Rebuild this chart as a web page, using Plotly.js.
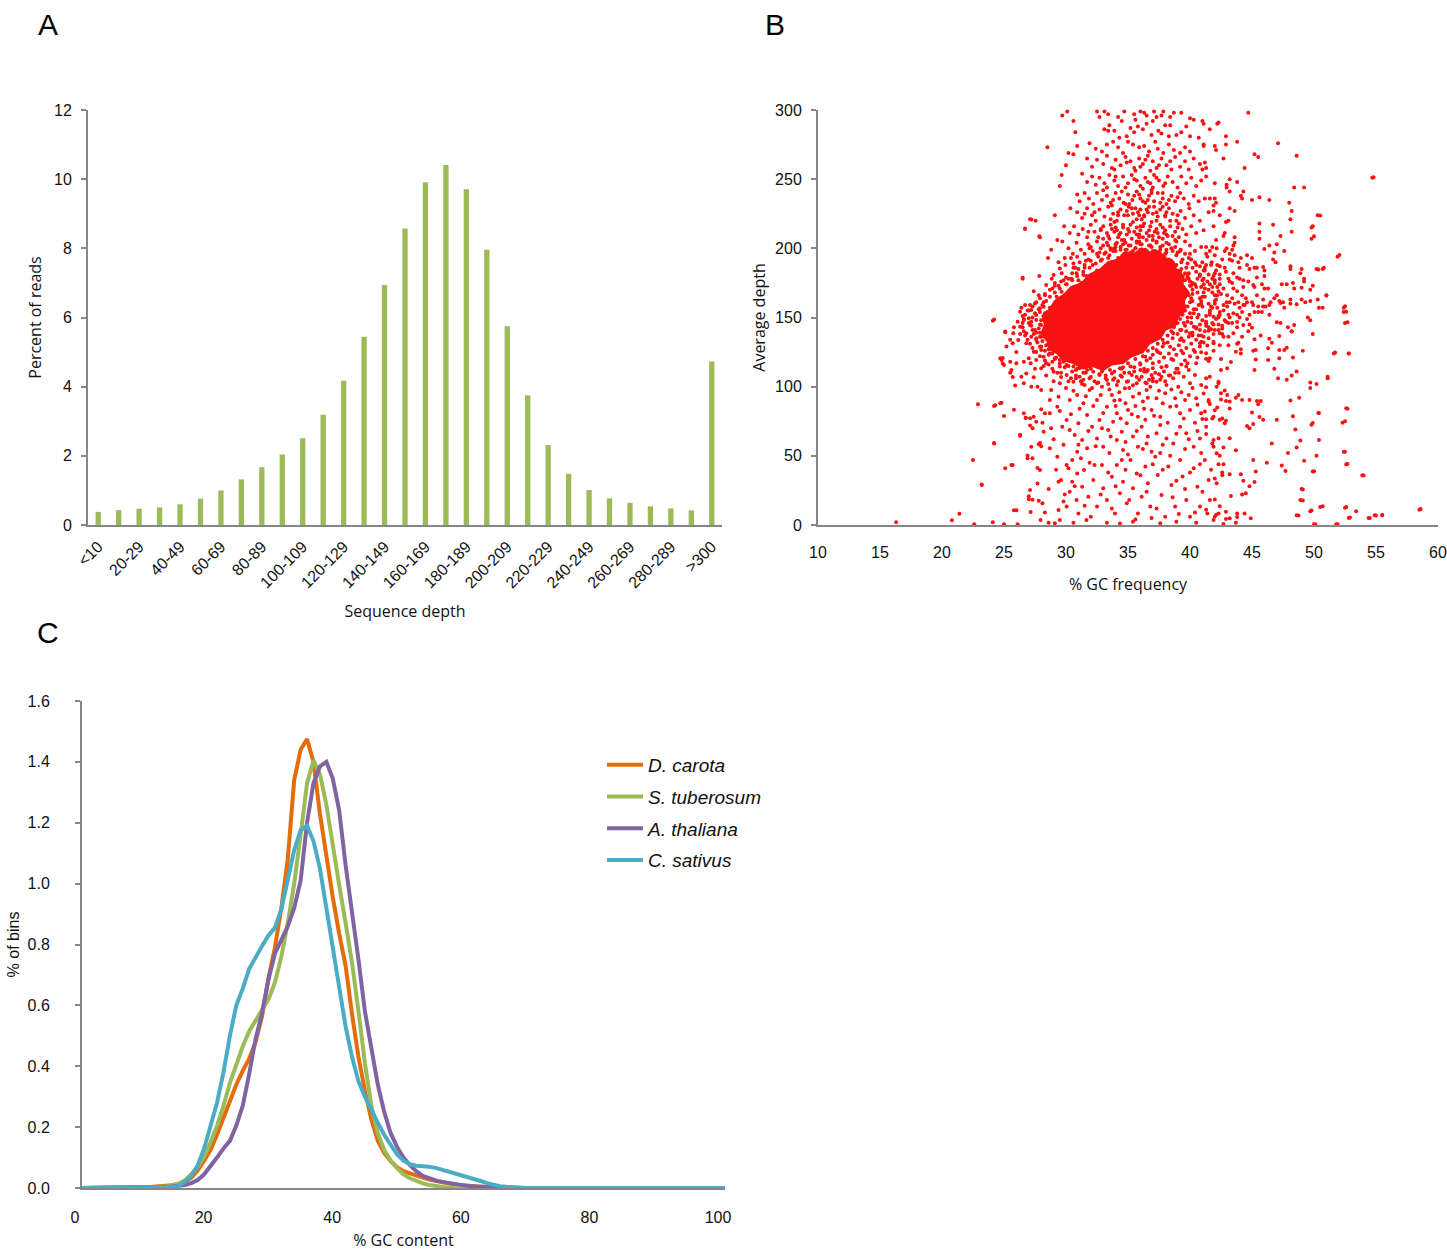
<!DOCTYPE html>
<html>
<head>
<meta charset="utf-8">
<script src="https://cdn.plot.ly/plotly-3.0.1.min.js"></script>
<style>
  html, body { margin: 0; padding: 0; background: #fff; }
  #chart { width: 1447px; height: 1251px; }
</style>
</head>
<body>
<div id="chart"></div>
<script>
// ---------- Panel A: distribution of sequence depth ----------
const depthBins = ['<10','10-19','20-29','30-39','40-49','50-59','60-69','70-79','80-89','90-99',
  '100-109','110-119','120-129','130-139','140-149','150-159','160-169','170-179','180-189','190-199',
  '200-209','210-219','220-229','230-239','240-249','250-259','260-269','270-279','280-289','290-299','>300'];
const percentReads = [0.38,0.43,0.47,0.51,0.60,0.76,1.00,1.32,1.67,2.04,
  2.51,3.19,4.17,5.44,6.94,8.57,9.91,10.41,9.71,7.96,
  5.75,3.75,2.31,1.48,1.01,0.77,0.64,0.54,0.48,0.42,4.73];
const depthTickLabels = ['<10','20-29','40-49','60-69','80-89','100-109','120-129','140-149',
  '160-169','180-189','200-209','220-229','240-249','260-269','280-289','>300'];

// ---------- Panel B: GC frequency vs average depth ----------
// saturated centre of the cloud, where the windows overlap completely
const denseCoreOutline = [[28.0,138],[28.3,145],[28.1,151],[28.7,156],[29.1,162],[29.9,167],[30.4,172],[31.3,175],
  [31.9,181],[32.8,185],[33.4,190],[34.2,192],[34.7,197],[35.5,196],[36.1,200],[36.8,197],[37.5,198],[38.0,193],
  [38.7,190],[38.9,184],[39.5,180],[39.4,174],[39.9,168],[39.5,162],[39.6,155],[39.0,150],[38.8,144],[38.0,141],
  [37.6,135],[36.7,131],[36.2,125],[35.3,122],[34.6,117],[33.7,116],[33.0,112],[32.1,115],[31.4,113],[30.6,117],
  [29.8,119],[29.3,124],[28.7,127],[28.5,133],[28.0,138]];

// crowded ring of windows around the centre
const haloPoints = [
  [30.2,104],[31.4,105],[32.6,103],[33.8,105],[35.0,104],[36.4,103],[37.6,105],
  [29.6,107],[30.8,108],[32.0,107],[33.2,106],[34.4,108],[35.7,107],[37.0,106],[38.3,108],
  [29.3,110],[30.5,111],[31.6,110],[32.7,109],[33.9,111],[35.1,110],[36.3,111],[37.5,109],[38.8,110],
  [28.9,113],[29.9,114],[30.9,113],[34.5,113],[35.5,114],[36.6,112],[37.7,114],[38.9,113],
  [28.6,116],[29.5,117],[30.2,115],[35.0,117],[36.0,116],[37.0,117],[38.1,115],[39.3,116],
  [28.3,119],[29.1,120],[29.8,118],[35.6,120],[36.5,119],[37.5,118],[38.5,120],[39.6,119],
  [27.9,122],[28.6,123],[29.2,121],[36.2,122],[37.0,123],[37.9,121],[38.9,123],[40.0,122],
  [27.6,125],[28.3,126],[28.9,124],[36.6,126],[37.4,125],[38.3,124],[39.3,126],[40.4,125],
  [27.3,128],[28.0,129],[28.6,127],[37.0,128],[37.8,129],[38.7,127],[39.7,128],[40.8,129],
  [27.1,131],[27.7,132],[28.4,130],[37.4,131],[38.2,132],[39.1,130],[40.1,131],[41.1,132],
  [26.9,134],[27.6,135],[28.1,133],[37.8,134],[38.6,135],[39.5,133],[40.5,134],[41.5,135],
  [26.7,137],[27.4,138],[28.0,136],[38.2,137],[39.0,138],[39.9,136],[40.9,137],[41.9,138],
  [26.6,140],[27.3,141],[27.9,139],[38.5,140],[39.3,141],[40.2,139],[41.2,140],[42.3,141],
  [26.5,143],[27.2,144],[27.8,142],[38.7,143],[39.6,144],[40.5,142],[41.5,143],[42.6,144],
  [26.5,146],[27.2,147],[27.9,145],[39.0,146],[39.8,147],[40.8,145],[41.8,146],[42.9,147],
  [26.6,149],[27.3,150],[28.0,148],[39.2,149],[40.1,150],[41.0,148],[42.1,149],[43.2,150],
  [26.7,152],[27.5,153],[28.2,151],[39.4,152],[40.3,153],[41.3,151],[42.4,152],[43.5,153],
  [27.0,155],[27.8,156],[28.5,154],[39.6,155],[40.5,156],[41.6,154],[42.7,155],
  [27.3,158],[28.1,159],[28.8,157],[39.8,158],[40.7,159],[41.8,157],[43.0,158],
  [27.6,161],[28.4,162],[29.1,160],[40.0,161],[40.9,162],[42.0,160],[43.2,161],
  [27.9,164],[28.7,165],[29.5,163],[40.1,164],[41.0,165],[42.1,163],
  [28.3,167],[29.1,168],[29.9,166],[40.2,167],[41.1,168],[42.2,166],
  [28.7,170],[29.5,171],[30.3,169],[40.2,170],[41.2,171],[42.3,169],
  [29.1,173],[30.0,174],[30.8,172],[40.1,173],[41.1,174],[42.2,172],
  [29.6,176],[30.5,177],[31.3,175],[40.0,176],[41.0,177],[42.0,175],
  [30.0,179],[30.9,180],[31.8,178],[39.8,179],[40.8,180],[41.8,178],
  [30.5,182],[31.4,183],[32.3,181],[39.6,182],[40.5,183],[41.5,181],
  [31.0,185],[31.9,186],[32.8,184],[39.3,185],[40.2,186],[41.2,184],
  [31.5,188],[32.4,189],[33.2,187],[38.9,188],[39.8,189],[40.8,187],
  [32.0,191],[32.9,192],[33.7,190],[38.5,191],[39.4,192],[40.4,190],
  [32.6,194],[33.5,195],[34.2,193],[37.9,194],[38.9,195],[39.9,193],
  [33.2,197],[34.0,198],[34.8,199],[35.6,200],[36.4,199],[37.2,198],[38.1,197],[39.2,198],
  [33.6,200],[34.4,201],[35.2,202],[36.0,203],[36.8,202],[37.6,201],[38.5,200],
  [34.0,203],[34.8,204],[35.7,205],[36.5,206],[37.3,205],[38.1,204],
  [34.5,206],[35.3,207],[36.2,208],[37.0,209],[37.8,207],
  [33.5,207],[34.3,210],[35.1,212],[35.9,210],[36.7,213],[37.4,211],[38.2,209],[33.9,219],[34.6,217],[35.4,219],
  [36.1,221],[36.9,219],[37.6,217],[38.4,220],[34.2,226],[35.0,224],[35.8,226],[36.5,228],[37.3,226],[38.0,224],
  [33.7,231],[34.8,232],[36.2,234],[37.6,233],[35.5,238],[36.9,240],[32.8,214],[39.1,218],[39.6,205],[33.0,207],
  [36.0,216],[37.0,206],[34.7,206],[38.8,206],[35.3,229],[37.1,230],[36.3,224],[34.1,213],[38.0,213],[35.7,215],
  [39.9,182],[40.6,178],[41.2,186],[41.9,180],[40.4,174],[41.5,170],[42.0,166],[40.9,160],[41.7,158],[42.4,154],
  [40.6,150],[41.3,144],[42.0,141],[40.7,137],[43.0,166],[43.4,175],[42.9,183],[43.6,160],[44.2,154],[43.1,146],
  [41.0,190],[42.2,188],[40.0,196],[41.4,194],[43.8,143],[44.5,164],[42.7,136],[41.9,126],[40.6,121],[39.8,117],
  [27.0,146],[27.6,139],[26.3,138],[26.1,147],[25.8,143],[28.9,118],[28.2,115],[27.5,113],[29.6,110],[30.4,106],
  [31.3,102],[32.3,104],[33.4,102],[34.2,104],[35.4,101],[36.7,105],[30.0,99],[29.0,104],[28.4,108],[26.0,125],
  [25.5,134],[26.4,157],[27.8,166],[28.9,171],[29.8,177],[30.6,186],[31.6,191],[32.5,196],[33.9,200],[31.9,200]
];

const upperPoints = [
  [29.7,296],[30.1,299],[30.6,292],[32.5,299],[32.7,295],[33.1,299],[33.4,297],[34.2,295],[34.5,292],[34.7,299],
  [35.5,297],[35.6,293],[36.0,299],[36.3,298],[36.5,296],[37.0,292],[37.1,299],[37.3,295],[37.7,296],[37.85,299],
  [38.4,295],[38.7,298],[39.3,298],[40.0,294],[40.3,293],[41.0,292],[41.1,290],[42.2,290],[42.3,291],[44.7,298],
  [30.75,284],[33.1,286],[33.4,285],[33.5,289],[33.9,285],[34.3,280],[34.9,281],[35.2,287],[35.5,284],[35.8,288],
  [36.2,286],[36.5,290],[36.9,282],[37.45,285],[37.7,283],[38.0,289],[38.3,281],[38.4,289],[38.9,282],[39.3,284],
  [39.7,288],[40.0,281],[40.7,280],[41.6,286],[42.9,281],
  [28.5,273],[30.2,269],[30.6,268],[30.9,274],[31.9,276],[32.4,272],[32.9,270],[33.3,275],[33.8,277],[34.2,273],
  [34.6,269],[35.0,277],[35.4,275],[35.9,273],[36.3,274],[36.7,270],[37.2,277],[37.4,272],[37.85,269],[38.3,275],
  [38.7,271],[39.2,269],[39.6,273],[40.0,270],[41.1,275],[41.1,274],[42.0,274],[42.1,271],[42.9,275],[43.8,277],[47.1,276],
  [30.0,260],[31.7,265],[32.1,259],[32.5,264],[33.0,261],[33.3,267],[33.7,258],[34.0,264],[34.4,260],[34.8,266],
  [34.9,262],[35.2,263],[35.5,258],[35.6,256],[35.9,265],[36.0,259],[36.2,261],[36.4,264],[36.6,267],[36.8,256],
  [37.0,263],[37.3,258],[37.5,260],[37.7,265],[38.1,260],[38.4,263],[38.5,257],[38.8,266],[39.2,259],[39.6,263],
  [39.9,257],[40.3,265],[40.8,261],[41.0,257],[41.2,262],[41.3,258],[42.7,265],[44.4,258],[45.2,268],[45.5,266],
  [48.6,267],[33.9,257],
  [29.5,245],[29.65,253],[31.3,254],[31.7,248],[32.1,252],[32.4,246],[32.7,251],[33.1,247],[33.3,244],[33.5,253],
  [33.9,249],[34.0,252],[34.2,245],[34.6,252],[34.8,244],[35.0,247],[35.3,253],[35.5,250],[35.7,249],[36.0,245],
  [36.2,243],[36.4,251],[36.6,248],[36.8,247],[37.0,244],[37.1,253],[37.3,251],[37.5,249],[37.85,245],[38.0,247],
  [38.2,252],[38.6,248],[39.0,244],[39.3,252],[39.7,247],[40.1,251],[40.5,245],[40.9,249],[41.3,252],[42.0,247],
  [42.95,246],[42.95,244],[43.2,250],[43.8,248],[44.3,241],[48.4,244],[49.2,244],[54.7,251],
  [30.9,239],[31.1,234],[31.5,240],[31.85,236],[32.2,232],[32.5,240],[32.9,235],[33.0,242],[33.3,238],[33.6,233],
  [33.8,235],[34.0,240],[34.3,236],[34.5,241],[34.65,233],[35.0,239],[35.1,232],[35.35,235],[35.7,241],[35.9,239],
  [36.0,236],[36.4,233],[36.6,235],[36.7,238],[36.9,242],[37.1,234],[37.4,240],[37.8,236],[37.8,240],[38.1,232],
  [38.3,235],[38.5,238],[38.8,234],[39.0,237],[39.2,240],[39.5,236],[39.9,232],[40.3,238],[40.7,234],[41.2,236],
  [41.6,236],[41.9,231],[42.0,236],[42.1,233],[43.2,241],[44.1,238],[44.2,236],[45.0,235],[45.6,237],[46.4,235],[48.0,233],
  [27.1,221],[27.55,220],[29.1,224],[30.35,229],[30.9,226],[31.3,222],[31.5,225],[31.7,229],[32.1,224],[32.3,226],
  [32.4,220],[32.7,228],[33.1,223],[33.4,230],[33.6,221],[33.8,225],[34.1,220],[34.2,224],[34.4,228],[34.7,224],
  [34.9,227],[35.05,230],[35.4,225],[35.6,229],[35.7,221],[35.9,224],[36.0,228],[36.3,223],[36.6,226],[36.7,230],
  [37.0,225],[37.3,220],[37.4,223],[37.6,228],[37.8,230],[38.0,223],[38.1,226],[38.3,229],[38.6,225],[38.9,220],
  [39.0,224],[39.25,227],[39.6,222],[39.95,229],[40.3,224],[40.8,220],[41.5,226],[41.9,227],[42.4,224],[42.9,219],
  [43.1,220],[43.2,229],[43.6,227],[48.1,221],[48.2,227],[50.3,224],
  [26.7,214],[27.9,208],[29.85,216],[30.3,211],[30.65,216],[31.0,210],[31.35,214],[31.7,208],[31.8,212],[32.0,217],
  [32.3,212],[32.6,208],[32.8,213],[33.0,216],[33.3,211],[33.4,209],[33.6,217],[33.7,214],[33.9,212],[34.0,215],
  [34.2,208],[34.4,211],[34.6,215],[34.9,210],[35.0,214],[35.2,217],[35.5,212],[35.7,210],[35.9,208],[36.0,213],
  [36.2,216],[36.3,218],[36.5,211],[36.7,209],[36.8,216],[37.15,212],[37.3,214],[37.5,208],[37.8,215],[37.9,211],
  [38.1,210],[38.4,216],[38.6,209],[38.8,212],[39.0,215],[39.1,208],[39.4,214],[39.7,210],[40.1,216],[40.5,211],
  [41.1,213],[41.9,216],[42.1,206],[42.7,209],[42.8,211],[43.6,208],[45.6,207],[45.6,212],[45.6,218],[46.7,217],
  [47.3,209],[48.2,212],[49.8,207],[49.8,215],
  [28.8,199],[29.3,206],[29.7,205],[30.2,200],[30.55,196],[30.85,204],[31.2,199],[31.5,196],[31.8,203],[32.0,201],
  [32.15,198],[32.5,205],[32.7,197],[32.8,200],[33.0,202],[33.1,196],[33.3,204],[33.4,202],[33.6,199],[33.8,198],
  [34.0,201],[34.1,204],[34.4,199],[34.6,203],[34.7,196],[34.9,199],[35.05,202],[35.2,197],[35.4,198],[35.6,200],
  [35.7,204],[35.9,205],[36.0,199],[36.1,203],[36.3,196],[36.5,198],[36.7,202],[36.9,201],[37.0,198],[37.2,196],
  [37.3,204],[37.6,199],[37.8,202],[38.0,196],[38.1,199],[38.3,203],[38.6,198],[38.8,201],[38.9,205],[39.0,197],
  [39.25,199],[39.6,196],[40.0,202],[40.4,198],[40.9,201],[41.3,196],[41.3,201],[41.6,198],[41.8,201],[42.0,195],
  [42.15,200],[42.8,198],[42.95,200],[43.2,196],[43.4,199],[43.5,202],[43.6,195],[43.6,204],[46.0,199.5],[46.4,202],
  [46.8,197],[47.0,203],[47.6,198]
];

const midPoints = [
  [28.55,193],[29.4,190],[29.5,185.5],[29.9,193],[29.95,188],[30.4,193],[30.6,189],[30.75,186],[30.9,194],[31.1,190],
  [31.5,186],[31.8,192],[32.15,188],[32.5,184],[32.8,191],[33.1,186],[33.4,193],[33.8,188],[34.1,185],[34.4,190],
  [34.6,186],[34.8,193],[35.1,187],[35.5,191],[35.8,194],[35.9,185],[36.2,188],[36.6,192],[36.9,185],[37.0,189],
  [37.3,193],[37.3,187],[37.6,190],[38.0,186],[38.3,192],[38.65,187],[39.0,184],[39.3,190],[39.7,186],[40.1,192],
  [40.5,188],[41.1,184],[41.3,188],[41.7,188],[41.75,190],[42.1,184],[42.4,187],[42.6,192],[42.8,186],[43.2,192],
  [43.4,191],[43.9,190],[44.0,186],[44.1,193],[44.6,195],[44.6,188],[44.8,185],[45.0,193],[45.2,186],[45.4,186],
  [45.9,186.5],[46.0,184],[46.7,192],[46.9,190],[48.1,187],[48.1,185],[49.0,185],[50.2,185],[50.7,185],[51.9,194],[43.5,182],
  [26.5,178],[27.85,180],[28.4,173.5],[28.85,178],[29.0,180.7],[29.1,175],[29.4,173],[29.65,182],[30.05,174],[30.2,178],
  [30.45,178],[30.85,182],[31.0,177],[31.25,175],[31.4,180.7],[31.65,180],[31.8,174],[32.1,172],[32.4,178],[32.9,181],
  [38.0,182],[38.3,178],[38.7,181],[39.05,176],[39.2,183],[39.4,172],[39.6,177],[39.8,180],[39.9,178],[40.0,173],
  [40.2,175],[40.5,172],[40.8,181],[41.1,178],[41.4,176],[41.6,174],[41.8,172],[42.0,177],[42.0,182],[42.4,174],
  [42.4,178],[42.4,181],[43.1,178],[43.2,176],[43.5,171],[43.8,179],[44.0,178],[44.3,172],[44.3,177],[44.7,176],
  [45.1,173.5],[45.2,172],[45.4,179],[45.8,174],[46.0,180],[46.0,171],[46.3,171],[47.4,174],[47.8,174],[48.3,175],
  [48.4,171],[48.9,182],[49.0,171.5],[49.2,178],[49.2,176],[49.9,173],
  [27.4,169],[27.1,159],[27.9,154],[28.2,161],[28.3,166],[28.6,152],[28.7,157],[29.25,165],[29.25,152],[29.65,168.7],
  [29.9,159],[30.6,169],[30.9,159],[26.9,155],[26.5,151],[27.6,151.8],[27.0,149.4],[26.6,148.2],[26.3,154.2],[26.7,159],
  [27.2,155.4],[27.5,160.2],[28.2,157.8],[27.9,156.6],[28.3,153],[28.4,148.2],[28.0,144.6],[28.2,139.8],[27.1,144.6],[27.6,148.2],
  [27.5,141],[27.9,136.1],[27.2,136.1],[26.8,131.3],[26.8,138.6],[26.3,143.4],[26.15,133.7],[25.7,131.3],[25.2,129],[25.1,139.3],
  [25.75,138.6],[24.1,147.7],[27.0,120.5],[27.15,116.9],[26.6,118],[26.0,116.9],[25.5,118],[24.7,120.5],[24.8,119.3],[25.0,115.6],
  [25.6,112],[26.8,109.6],[26.4,107.2],[26.6,102.4],[27.4,106.8],[27.2,100],[27.7,100],[28.0,97.6],[28.8,97.6],[28.0,113.3],
  [28.4,116.9],[27.6,119.3],[28.2,121.7],[27.4,125.3],[27.9,128.9],[27.6,133.7],[28.0,126.5],[28.6,131.3],[28.7,124.1],[29.1,120.5],
  [29.5,119.3],[29.0,110.8],[29.5,114.5],[30.05,115.6],[30.6,114.5],[31.1,113.3],[31.7,112],[32.2,110.8],[32.7,114.5],[33.55,112],
  [34.35,113.3],[35.2,114.5],[35.97,116.9],[36.8,120.5],[37.6,124.1],[38.4,128.9],[39.2,133.7],[40.0,138.6],[40.8,141],[41.3,145.8],
  [38.65,119.3],[39.45,124.1],[40.3,126.5],[40.8,131.3],[41.3,124.1],[41.9,131.3],[42.4,138.6],[39.7,114.5],[40.5,116.9],[38.1,114.5],
  [37.0,113.3],[36.5,110.8],[40.3,143.4],[39.2,141],[38.9,145.8],[37.9,131.3],[38.65,138.6],[37.3,126.5],[36.4,121.7],
  [39.5,170],[39.9,166],[40.2,162],[40.6,168],[40.9,172],[41.2,165],[41.5,160],[41.8,168],[40.3,156],[40.7,152],
  [41.0,158],[39.6,158],[39.8,150],[40.1,146],[40.5,143],[41.3,147],[41.6,155],[42.0,162],[42.2,157],[42.5,167],
  [42.7,171],[42.3,145],[42.6,142],[39.5,146],[39.7,140],[40.2,137],[39.3,135],[40.8,164],[39.4,166],[39.2,155],
  [40.0,153],[41.9,145],[38.8,162],[38.9,170],[38.6,150],[39.0,158]
];

const wingPoints = [
  [41.6,152],[41.9,150.6],[42.3,150],[42.3,151],[42.7,159],[42.8,148],[42.95,161],[43.1,152],[43.4,164],[43.4,146],
  [43.8,169],[43.8,152],[43.8,146.7],[43.9,161],[44.0,150],[44.0,157],[44.2,166],[44.3,159],[44.3,144.6],[44.4,159],
  [44.6,149],[44.6,161],[44.7,140],[44.8,152],[44.8,145],[45.0,161],[45.0,142.6],[45.1,159],[45.2,154],[45.4,166],
  [45.5,154],[45.5,158],[45.8,154],[45.9,163],[45.9,158],[46.1,158],[46.4,152],[46.4,159],[46.5,161],[46.8,164],
  [47.0,166],[47.0,146.5],[47.2,162],[47.3,160.5],[47.3,146],[47.5,161],[47.6,157],[47.9,143],[48.1,160],[48.1,163],
  [48.2,140],[48.4,144.6],[48.6,159.5],[49.0,163],[49.3,161],[49.5,150],[49.7,162],[49.7,148],[49.7,170],[49.9,138],
  [50.3,163],[50.4,157],[50.7,157],[51.0,166],[52.4,157],[52.4,154],[52.5,146],[43.5,138.6],[44.2,136],[42.6,138],
  [43.1,136],[43.1,130],[42.4,130],[41.9,132.5],[41.5,140.5],[41.7,141.5],[40.9,132.5],[41.1,136],[41.5,118.6],[41.6,120.5],
  [41.3,120.2],[40.9,124.8],[41.4,129.7],[43.8,131],[43.9,131.8],[44.1,127],[43.7,125.3],[44.1,124],[45.1,126],[45.3,126.5],
  [46.3,127.7],[47.2,126.5],[47.8,128.2],[47.6,126.5],[47.2,120.5],[46.3,119.3],[45.3,119.7],[45.7,136.9],[45.2,134.2],[47.2,136.6],
  [46.4,134.7],[46.6,131.8],[48.2,139.8],[49.1,126],[48.3,121],[51.6,124],[52.8,124],[42.5,120],[43.3,117.8]
];

const lowerPoints = [
  [45.2,112],[46.8,113],[42.5,112],[43.0,113.3],[41.3,106],[42.3,103.6],[42.3,102.4],[41.3,99.5],[42.8,97.3],[42.5,95.2],
  [43.0,94],[43.7,92],[43.9,94],[44.2,90.4],[44.8,90.4],[45.4,89.6],[45.7,89.6],[45.5,87.2],[42.5,90.8],[42.9,89.6],
  [43.2,89.2],[41.6,87.5],[41.5,90.4],[42.0,83],[42.2,85],[43.2,84.3],[45.0,81.4],[44.6,71.6],[44.8,70],[45.1,73],
  [42.4,76],[42.8,73.5],[42.9,75.4],[42.6,77],[41.8,77],[41.0,76.6],[41.3,76.4],[41.3,65.8],[41.8,59],[41.9,56.6],
  [42.3,62.7],[43.2,62.7],[43.7,54],[42.7,56],[42.4,50],[42.3,44],[42.7,44],[42.6,38],[42.6,36],[42.0,33.7],
  [42.0,18.5],[42.4,13.5],[43.2,36.6],[44.1,36.6],[44.3,32],[43.3,21],[44.2,22],[44.5,23],[44.8,28],[45.2,31],
  [45.3,38.6],[45.1,47],[44.4,8.4],[43.8,8.4],[43.8,5.8],[44.9,4.8],[43.7,1.7],[42.7,0.7],[42.9,9.6],[42.9,4.3],
  [43.2,4.8],[42.1,7.5],[42.0,6],[41.3,11],[41.4,8.4],[46.2,45],[47.4,43],[47.7,39],[46.6,59],[47.9,52],
  [48.6,56],[49.2,46.5],[49.9,38.6],[50.2,50],[52.4,53],[52.6,44],[53.9,36],[49.0,26],[48.9,18],[50.5,13],
  [49.7,10],[52.5,12.5],[53.4,10],[52.8,5],[54.4,5],[54.9,7],[55.5,7],[58.5,11],[48.6,7],[50.0,0.5],
  [51.8,0.5],[47.0,76],[45.9,76],[45.6,78],[48.5,69],[49.8,72.5],[52.3,74],[52.5,75],[50.4,81],[52.7,84],
  [48.1,90],[48.8,92],[49.7,99],[49.7,103],[50.2,102],[51.1,106],[47.8,105],[47.1,106],[48.2,108],[48.6,111],
  [49.9,73.8],[50.4,61.5],[48.9,61],[48.3,78.6],[49.1,17.8],[48.75,6.8],
  [22.9,87.2],[24.2,86],[24.7,88],[25.0,78.8],[26.3,64.6],[24.2,59],[22.5,47],[25.6,43.4],[25.1,41],[23.2,29.2],
  [27.2,56.6],[27.3,48.2],[26.9,48.2],[27.8,58.3],[28.0,57],[28.7,55.4],[29.3,49.4],[27.9,39.8],[27.7,30],[27.1,25.3],
  [27.0,18.6],[27.15,9.4],[27.8,17.6],[28.1,15.7],[27.95,3.6],[25.8,10.6],[28.6,1.7],[29.1,1.2],[29.5,3.6],[29.4,10.9],
  [29.8,16.9],[29.4,31.3],[29.6,32.5],[30.2,41],[30.5,47],[31.2,48.2],[31.7,55.4],[32.3,43.4],[27.3,69.9],[27.1,77.1],
  [27.4,78.3],[28.2,67.5],[28.8,69.9],[29.3,85.5],[29.5,82.4],[28.7,80.7],[28.0,83.6],[28.3,80.7],[28.7,90.4],[29.4,92.8],
  [26.75,77.6],[27.6,74.7],[29.7,71],[30.05,75.9],[30.3,68.7],[30.7,65.1],[31.0,73.5],[31.3,61.4],[31.7,79.5],[32.1,71],
  [32.5,62.6],[32.7,75.9],[33.0,56.6],[33.4,68.7],[33.8,74.7],[34.1,61.4],[34.6,54.2],[34.5,67.5],[34.9,73.5],[35.4,63.9],
  [35.8,56.6],[36.1,71],[36.5,59],[36.9,53],[37.3,66.3],[37.6,72.3],[38.1,62.6],[38.65,59],[39.2,71],[39.7,66.3],
  [40.3,56.6],[40.8,62.6],[41.3,71],[41.9,61.4],[42.15,51.8],
  [30.05,43.4],[30.5,31.3],[30.9,37.3],[31.3,27.7],[31.45,39.8],[31.8,20.5],[32.2,32.5],[32.5,13.3],[32.9,43.4],[33.0,26.5],
  [33.3,18.1],[33.7,34.9],[33.95,8.4],[34.1,43.4],[34.35,22.9],[34.6,31.3],[34.9,15.7],[35.2,47],[35.4,26.5],[35.7,37.3],
  [35.8,8.4],[36.1,20.5],[36.4,42.2],[36.6,30.1],[36.8,13.3],[37.2,49.4],[37.4,36.1],[37.7,21.7],[38.0,6],[38.25,42.2],
  [38.5,28.9],[38.8,13.3],[39.2,47],[39.4,35],[39.7,18.1],[40.0,6],[40.3,41],[40.6,27.7],[40.8,13.3],[41.2,47],
  [41.5,32.5],[41.6,18.1],[42.15,30.1],[42.3,8.4],[33.3,1.7],[34.35,1],[35.4,2.4],[37.6,1.2],[38.9,2.4],[40.5,1.7],
  [41.9,3.6],[31.65,3.6],[30.6,1.7],[31.0,8.4],[30.05,13.3],[30.85,18.1],[30.3,24.1],
  [30.3,90.4],[30.9,94],[31.4,88],[31.9,97.6],[32.5,90.4],[32.9,100],[33.3,85.5],[33.7,94],[34.1,80.7],[34.35,90.4],
  [34.75,98.8],[35.0,83.1],[35.4,92.8],[35.8,78.3],[36.2,89.2],[36.5,97.6],[36.9,83.1],[37.3,91.6],[37.6,78.3],[38.0,95.2],
  [38.4,85.5],[38.8,91.6],[39.2,80.7],[39.6,90.4],[40.0,83.1],[40.5,91.6],[40.9,80.7],[41.5,89.2],[41.9,78.3],
  [29.5,102.4],[30.05,108.4],[30.6,103.6],[31.1,107.2],[31.5,101.2],[31.9,106],[32.5,102.4],[32.7,108.4],[33.3,104.8],[33.7,109.6],
  [34.1,101.2],[34.5,107.2],[34.9,103.6],[35.3,108.4],[35.7,102.4],[36.1,107.2],[36.5,102.4],[36.9,108.4],[37.3,103.6],[37.7,107.2],
  [38.1,101.2],[38.65,106],[39.05,100],[39.5,107.2],[40.0,102.4],[40.4,108.4],[40.9,101.2],[41.6,107.2],[42.15,100],
  [30.8,112],[31.4,110],[32.0,113],[32.9,111],[33.9,106],[34.7,110],[35.5,111],[36.3,113],[37.2,110],[37.9,111],
  [38.4,108],[39.1,110],[39.9,112],[31.2,104],[32.1,99],[33.5,98],[34.3,96],[35.1,99],[35.9,95],[36.8,100],
  [37.5,97],[38.5,98],[39.3,96],[40.2,99],[41.1,95],[30.6,97],[31.6,93],[32.8,94],[33.9,90],[34.8,88],
  [35.6,86],[36.6,92],[37.8,88],[38.9,86],[39.9,94],[40.6,87],[31.1,84],[32.2,86],[33.0,81],[34.4,77],
  [35.3,80],[36.4,76],[37.1,79],[38.2,74],[39.5,77],[40.4,74],[41.2,82],[30.4,80],[31.8,68],[32.9,70],
  [33.6,64],[34.8,60],[35.7,68],[36.6,64],[37.8,58],[38.9,66],[39.9,62],[40.6,68],[32.4,57],[33.5,52],
  [35.0,51],[36.2,55],[37.6,52],[38.4,50],[39.6,55],[40.9,52],[31.0,58],[36.3,84],[34.0,86],[37.0,104],
  [35.9,105],[33.2,108],[38.0,104],[39.0,113],[30.8,106],[34.6,114],[36.0,112],
  [31.9,45],[33.4,38],[34.8,40],[36.0,36],[37.8,40],[38.9,32],[40.0,38],[41.0,24],[31.5,14],[32.8,22],
  [34.0,28],[35.1,18],[36.5,24],[37.3,12],[38.6,20],[39.6,26],[40.4,9],[41.7,40],[32.0,6],[33.7,12],
  [35.6,4],[36.9,5],[39.1,8],[34.5,47],[37.0,44],[40.8,44],[30.7,28],[29.9,22],[29.2,40],[28.6,26],
  [28.3,9],[29.0,62],[28.1,74],[29.8,58],[30.9,53]
];

const outlierPoints = [
  [16.3,2],[20.8,3.4],[21.4,8.2],[22.6,0.5],[23.2,29],[24.2,148.5],[25.1,139.9],[24.9,120.8],[24.9,116.7],[25.5,110],
  [25.7,107],[25.9,100.8],[26.7,214.4],[27.2,220.9],[26.5,178.7],[27.85,208.8],[24.3,86.6],[24.8,88.3],[24.2,59.3],[25.7,43.4],
  [24.1,1.9],[25.0,0.5],[26.0,10.6],[26.1,0.5],[26.3,65.3],[26.6,80.8],[26.75,77.4],[25.8,83.4],[27.1,71.9],[26.9,50.2],
  [27.0,20.7],[27.7,41.2],[27.9,59.3],[27.3,18.3],[54.8,251.3],[52.5,158.2],[52.6,154.1],[52.7,146.6],[52.8,124],[51.7,124.7],
  [51.1,107.1],[50.5,223.8],[49.9,216],[50.0,208.8],[51.0,165.9],[50.8,185.9],[50.35,184.7],[52.05,195.1],[52.6,84.4],[52.5,53],
  [52.7,44.1],[52.6,13],[52.9,5.5],[54.0,35.7],[54.5,5.1],[55.0,6.8],[55.5,7.2],[58.6,11.6],[51.9,0.5],[50.1,0.5],
  [50.35,81],[50.0,38.8],[49.8,10.4],[50.7,13.5],[49.1,25.6]
];

// ---------- Panel C: GC content of genome bins ----------
const gcContent = [0,5,10,11,12,13,14,15,16,17,18,19,20,21,22,23,24,25,26,27,28,29,30,31,32,33,34,35,36,37,38,39,40,
  41,42,43,44,45,46,47,48,49,50,51,52,53,54,55,56,57,58,59,60,61,62,63,64,65,66,67,68,69,70,80,90,100];
const dCarota = [0,0,0.003,0.004,0.005,0.007,0.009,0.013,0.02,0.034,0.058,0.09,0.125,0.175,0.23,0.285,0.34,0.385,0.425,0.48,
  0.565,0.69,0.79,0.92,1.08,1.34,1.44,1.475,1.40,1.23,1.085,0.955,0.835,0.73,0.57,0.43,0.32,0.225,0.155,0.115,
  0.088,0.068,0.055,0.047,0.04,0.034,0.028,0.023,0.018,0.014,0.011,0.009,0.007,0.005,0.004,0.003,0.002,0.001,0,0,
  0,0,0,0,0,0];
const sTuberosum = [0,0,0.001,0.002,0.003,0.005,0.008,0.014,0.025,0.045,0.07,0.105,0.15,0.205,0.27,0.345,0.405,0.465,0.515,0.55,
  0.58,0.62,0.675,0.76,0.87,1.0,1.16,1.33,1.405,1.36,1.26,1.12,0.995,0.87,0.74,0.58,0.41,0.27,0.18,0.125,
  0.09,0.065,0.045,0.032,0.022,0.015,0.01,0.006,0.003,0.001,0,0,0,0,0,0,0,0,0,0,
  0,0,0,0,0,0];
const aThaliana = [0,0,0.001,0.001,0.002,0.003,0.005,0.007,0.01,0.016,0.026,0.045,0.07,0.1,0.13,0.155,0.205,0.27,0.375,0.49,
  0.575,0.685,0.77,0.815,0.86,0.92,1.01,1.2,1.33,1.385,1.40,1.345,1.24,1.06,0.91,0.75,0.58,0.455,0.34,0.25,
  0.18,0.135,0.1,0.075,0.055,0.04,0.032,0.025,0.02,0.016,0.012,0.009,0.007,0.005,0.004,0.003,0.002,0.001,0,0,
  0,0,0,0,0,0];
const cSativus = [0,0,0,0,0.001,0.002,0.003,0.006,0.02,0.04,0.075,0.13,0.2,0.28,0.38,0.5,0.6,0.655,0.72,0.76,
  0.795,0.83,0.855,0.915,1.01,1.11,1.175,1.19,1.14,1.05,0.92,0.785,0.655,0.53,0.43,0.35,0.3,0.255,0.215,0.175,
  0.14,0.11,0.09,0.078,0.073,0.072,0.07,0.066,0.06,0.055,0.05,0.043,0.036,0.03,0.023,0.016,0.01,0.006,0.004,0.002,
  0.001,0,0,0,0,0];
const speciesNames = ['D. carota','S. tuberosum','A. thaliana','C. sativus'];
const speciesColors = ['#e46c0a','#9bbb59','#8064a2','#4bacc6'];
const speciesValues = [dCarota, sTuberosum, aThaliana, cSativus];

// ---------- styling ----------
const AXIS_GREY = '#868686';
const TICK_FONT = {family: 'Liberation Sans, Arial, sans-serif', size: 16, color: '#111'};
const TITLE_FONT = {family: 'Open Sans, Liberation Sans, sans-serif', size: 16, color: '#111'};
const SCATTER_RED = 'rgb(248,18,18)';

const W = 1447, H = 1251;
const px = v => v / W;            // horizontal pixel -> paper fraction
const py = v => 1 - v / H;        // vertical pixel (from top) -> paper fraction

function axisBase(extra) {
  return Object.assign({
    showline: true, linecolor: AXIS_GREY, linewidth: 2,
    showgrid: false, zeroline: false, tickfont: TICK_FONT,
    fixedrange: true
  }, extra);
}

const entity = s => s.replace(/</g, '&lt;').replace(/>/g, '&gt;');

const traces = [];

// Panel A bars
traces.push({
  type: 'bar', x: depthBins, y: percentReads, xaxis: 'x', yaxis: 'y',
  marker: {color: '#9bbb59'}, showlegend: false, hoverinfo: 'x+y'
});

// Panel B cloud: saturated centre, then the individual windows
traces.push({
  type: 'scatter', mode: 'lines', xaxis: 'x2', yaxis: 'y2',
  x: denseCoreOutline.map(p => p[0]), y: denseCoreOutline.map(p => p[1]),
  fill: 'toself', fillcolor: SCATTER_RED, line: {color: SCATTER_RED, width: 2},
  showlegend: false, hoverinfo: 'skip'
});
const cloud = [].concat(haloPoints, upperPoints, midPoints, wingPoints, lowerPoints, outlierPoints);
traces.push({
  type: 'scatter', mode: 'markers', xaxis: 'x2', yaxis: 'y2',
  x: cloud.map(p => p[0]), y: cloud.map(p => p[1]),
  marker: {color: SCATTER_RED, size: 4, line: {width: 0}},
  cliponaxis: false, showlegend: false
});

// Panel C curves
speciesNames.forEach((name, i) => {
  traces.push({
    type: 'scatter', mode: 'lines', xaxis: 'x3', yaxis: 'y3',
    x: gcContent, y: speciesValues[i], name: name, legendgroup: name,
    line: {color: speciesColors[i], width: 4}
  });
});

const layout = {
  width: W, height: H,
  margin: {l: 0, r: 0, t: 0, b: 0},
  paper_bgcolor: '#fff', plot_bgcolor: '#fff',
  bargap: 0.74,
  showlegend: true,
  legend: {
    x: px(602), y: py(746), xanchor: 'left', yanchor: 'top',
    font: {family: 'Liberation Sans, Arial, sans-serif', size: 19, style: 'italic', color: '#111'},
    bgcolor: 'rgba(0,0,0,0)', tracegroupgap: 4, itemwidth: 36
  },
  xaxis: axisBase({
    domain: [px(88), px(722)], anchor: 'y', type: 'category',
    tickmode: 'array', tickvals: depthTickLabels, ticktext: depthTickLabels.map(entity),
    tickangle: -45, ticks: '', ticklabelstandoff: 4,
    title: {text: 'Sequence depth', font: TITLE_FONT, standoff: 15}
  }),
  yaxis: axisBase({
    domain: [py(525), py(110)], anchor: 'x', range: [0, 12], dtick: 2,
    ticks: 'outside', ticklen: 5, tickwidth: 2, tickcolor: AXIS_GREY, ticklabelstandoff: 6,
    title: {text: 'Percent of reads', font: TITLE_FONT, standoff: 8}
  }),
  xaxis2: axisBase({
    domain: [px(818), px(1438)], anchor: 'y2', range: [10, 60], dtick: 5,
    ticks: '', ticklabelstandoff: 12,
    title: {text: '% GC frequency', font: TITLE_FONT, standoff: 19}
  }),
  yaxis2: axisBase({
    domain: [py(525), py(110)], anchor: 'x2', range: [0, 300], dtick: 50,
    ticks: 'outside', ticklen: 5, tickwidth: 2, tickcolor: AXIS_GREY, ticklabelstandoff: 6,
    title: {text: 'Average depth', font: TITLE_FONT, standoff: 5}
  }),
  xaxis3: axisBase({
    domain: [px(82), px(725)], anchor: 'y3', range: [0, 100], dtick: 20,
    ticks: '', ticklabelshift: -7, ticklabelstandoff: 14,
    title: {text: '% GC content', font: TITLE_FONT, standoff: 11}
  }),
  yaxis3: axisBase({
    domain: [py(1188), py(701)], anchor: 'x3', range: [0, 1.6], dtick: 0.2, tickformat: '.1f',
    ticks: 'outside', ticklen: 5, tickwidth: 2, tickcolor: AXIS_GREY, ticklabelstandoff: 22,
    title: {text: '% of bins', font: {family: 'Liberation Sans, Arial, sans-serif', size: 16, color: '#111'}, standoff: 4}
  }),
  annotations: [
    {text: 'A', x: px(48), y: py(25)},
    {text: 'B', x: px(775), y: py(25)},
    {text: 'C', x: px(48), y: py(632)}
  ].map(a => Object.assign(a, {
    xref: 'paper', yref: 'paper', xanchor: 'center', yanchor: 'middle', showarrow: false,
    font: {family: 'Liberation Sans, Arial, sans-serif', size: 30, color: '#000'}
  }))
};

Plotly.newPlot('chart', traces, layout, {displayModeBar: false, staticPlot: true});
</script>
</body>
</html>
